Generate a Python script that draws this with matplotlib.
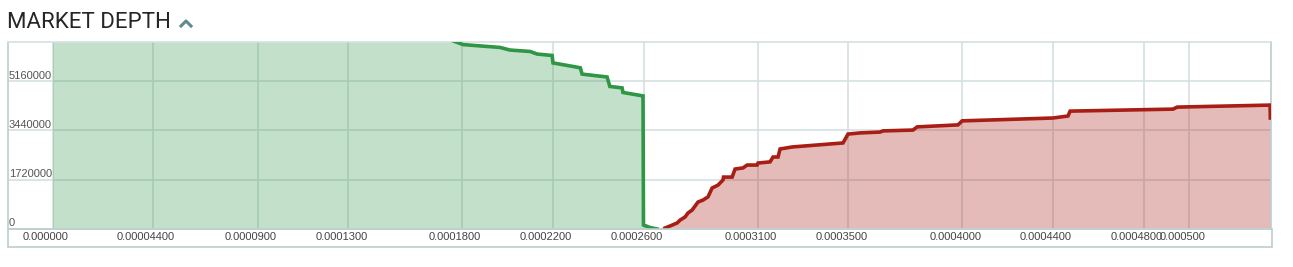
import matplotlib
matplotlib.use("Agg")
import matplotlib.pyplot as plt
from matplotlib.lines import Line2D
from matplotlib.patches import Rectangle
from matplotlib.transforms import ScaledTranslation, blended_transform_factory

# ---------------- data ----------------
# bids (price, cumulative volume)
bid_price = [0.0, 0.000080, 0.000150, 0.000174, 0.0001804, 0.0001967, 0.000201,
             0.0002099, 0.000213, 0.0002196, 0.000220, 0.000230, 0.000232,
             0.0002328, 0.0002438, 0.000245, 0.0002504, 0.0002508, 0.0002596,
             0.0002598, 0.0002627, 0.0002658]
bid_volume = [9800000, 8900000, 7800000, 6620000, 6430000, 6330000, 6240000,
              6190000, 6100000, 6050000, 5790000, 5650000, 5620000,
              5400000, 5300000, 4970000, 4920000, 4760000, 4640000,
              140000, 50000, 0]

# asks (price, cumulative volume)
ask_price = [0.0002693, 0.0002715, 0.0002746, 0.0002759, 0.0002781, 0.0002794,
             0.0002812, 0.0002825, 0.0002838, 0.0002860, 0.0002882, 0.0002900,
             0.0002926, 0.0002948, 0.0002950, 0.0002988, 0.0003001, 0.0003036,
             0.0003054, 0.0003098, 0.0003102, 0.0003155, 0.0003168, 0.0003190,
             0.0003199, 0.0003252, 0.0003476, 0.0003498, 0.0003551, 0.0003639,
             0.0003652, 0.0003784, 0.0003802, 0.0003982, 0.0004000, 0.0004400,
             0.0004466, 0.0004475, 0.0004928, 0.0004946, 0.0005355, 0.0005356]
ask_volume = [35000, 105000, 210000, 310000, 420000, 560000,
              660000, 800000, 940000, 1010000, 1120000, 1430000,
              1530000, 1710000, 1810000, 1810000, 2090000, 2130000,
              2230000, 2230000, 2300000, 2340000, 2510000, 2510000,
              2790000, 2860000, 3000000, 3310000, 3350000, 3380000,
              3420000, 3450000, 3560000, 3630000, 3770000, 3870000,
              3940000, 4110000, 4180000, 4250000, 4320000, 3870000]

x_ticks = [0.0, 0.000044, 0.00009, 0.00013, 0.00018, 0.00022, 0.00026,
           0.00031, 0.00035, 0.0004, 0.00044, 0.00048, 0.0005]
x_tick_labels = ["0.000000", "0.00004400", "0.0000900", "0.0001300", "0.0001800",
                 "0.0002200", "0.0002600", "0.0003100", "0.0003500", "0.0004000",
                 "0.0004400", "0.0004800", "0.000500"]
y_ticks = [0, 1720000, 3440000, 5160000]
y_tick_labels = ["0", "1720000", "3440000", "5160000"]

title = "MARKET DEPTH"

# ---------------- figure ----------------
W, H = 1293, 267
fig = plt.figure(figsize=(W / 100, H / 100), dpi=100)
fig.patch.set_facecolor("white")

def fx(px):
    return px / W

def fy(py):
    return 1 - py / H

ax_left, ax_right, ax_top, ax_bottom = 8, 1271, 42, 229
ax = fig.add_axes([fx(ax_left), fy(ax_bottom), fx(ax_right - ax_left),
                   (ax_bottom - ax_top) / H])

green_line = "#2e9644"
green_fill = "#3a9c50"
red_line = "#a81d14"
red_fill = "#a82014"
grid_col = "#d6e0e0"
border_col = "#bccdcd"

ax.set_xlim(-0.0000198, 0.0005359)
ax.set_ylim(0, 6520000)

ax.set_xticks(x_ticks)
ax.set_yticks(y_ticks)
ax.grid(True, color=grid_col, linewidth=1.2, zorder=0)
ax.set_axisbelow(True)
ax.tick_params(length=0, labelbottom=False, labelleft=False)

ax.fill_between(bid_price, bid_volume, 0, color=green_fill, alpha=0.3,
                linewidth=0, zorder=2)
ax.plot(bid_price, bid_volume, color=green_line, linewidth=2.6, zorder=3,
        solid_joinstyle="miter")
ax.fill_between(ask_price, ask_volume, 0, color=red_fill, alpha=0.3,
                linewidth=0, zorder=2)
ax.plot(ask_price, ask_volume, color=red_line, linewidth=2.6, zorder=3,
        solid_joinstyle="miter")

for sp in ax.spines.values():
    sp.set_color(grid_col)
    sp.set_linewidth(1.2)
ax.spines["left"].set_color(border_col)
ax.spines["right"].set_color(border_col)

# y labels (left aligned, just above gridline)
ytrans = blended_transform_factory(ax.transAxes, ax.transData)
for v, lab in zip(y_ticks, y_tick_labels):
    ax.text(0.0008, v, lab, transform=ytrans + ScaledTranslation(0, 0.5 / 100, fig.dpi_scale_trans),
            ha="left", va="bottom", fontsize=8, color="#555555",
            family="Liberation Sans", zorder=4)

# x labels
xtrans = blended_transform_factory(ax.transData, fig.transFigure)
for v, lab in zip(x_ticks, x_tick_labels):
    ax.text(v, fy(237), lab, transform=xtrans + ScaledTranslation(-7 / 100, 0, fig.dpi_scale_trans),
            ha="center", va="center", fontsize=8, color="#444444",
            family="Liberation Sans", clip_on=False)

# label strip frame
fig.patches.append(Rectangle((fx(7.5), fy(246.5)), fx(1271.5 - 7.5), (246.5 - 229) / H,
                             transform=fig.transFigure, fill=False,
                             edgecolor=border_col, linewidth=1.2))

# title
fig.text(fx(7), fy(23), title, ha="left", va="center", fontsize=16,
         color="#262626", family="Roboto")
fig.add_artist(Line2D([fx(181), fx(186), fx(191)], [fy(26), fy(21), fy(26)],
                      transform=fig.transFigure, color="#5e8c8e", linewidth=2.2))

fig.savefig("out.png", dpi=100, facecolor="white")
